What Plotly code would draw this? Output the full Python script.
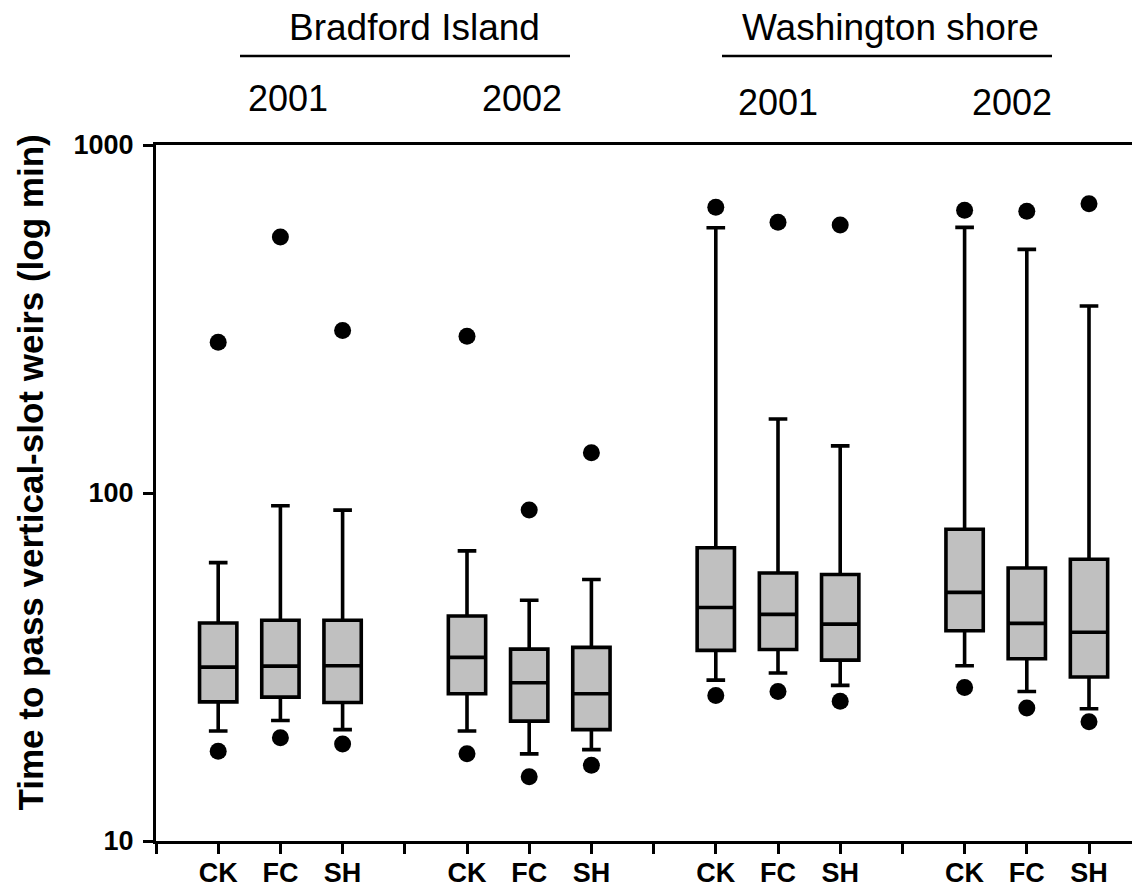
import plotly.graph_objects as go

# ---- data ----
categories = ["CK", "FC", "SH", "CK", "FC", "SH", "CK", "FC", "SH", "CK", "FC", "SH"]
positions = [1, 2, 3, 5, 6, 7, 9, 10, 11, 13, 14, 15]

q1 = [25.1, 25.9, 25.0, 26.5, 22.1, 20.9, 35.3, 35.5, 33.1, 40.2, 33.4, 29.6]
median = [31.6, 31.8, 31.9, 33.7, 28.5, 26.5, 46.9, 44.8, 42.0, 51.8, 42.2, 39.8]
q3 = [42.3, 43.1, 43.1, 44.3, 35.6, 36.0, 69.6, 58.9, 58.3, 78.7, 60.9, 64.5]
lower_whisker = [20.7, 22.2, 20.9, 20.7, 17.8, 18.3, 29.0, 30.4, 28.0, 31.9, 26.9, 24.0]
upper_whisker = [63.1, 91.9, 89.3, 68.2, 49.2, 56.4, 578.5, 163.1, 136.6, 580.0, 501.2, 344.5]
lower_point = [18.1, 19.8, 19.0, 17.8, 15.3, 16.5, 26.2, 26.9, 25.2, 27.6, 24.1, 22.0]
upper_point = [271, 544, 293, 282, 89.3, 130.5, 662, 600, 589, 649, 645, 678]

tick_positions = list(range(0, 16))
tick_text = ["" if p not in positions else categories[positions.index(p)] for p in tick_positions]

y_tickvals = [10, 100, 1000]
y_ticktext = ["10", "100", "1000"]

FONT = "Liberation Sans, Arial, sans-serif"

fig = go.Figure()

fig.add_trace(go.Box(
    x=positions,
    q1=q1, median=median, q3=q3,
    lowerfence=lower_whisker, upperfence=upper_whisker,
    width=0.6,
    whiskerwidth=0.5,
    fillcolor="#c0c0c0",
    line=dict(color="black", width=3.6),
    boxpoints=False,
    showlegend=False,
    hoverinfo="skip",
))

fig.add_trace(go.Scatter(
    x=positions, y=upper_point, mode="markers",
    marker=dict(color="black", size=17, line=dict(width=0)),
    showlegend=False, hoverinfo="skip", cliponaxis=False,
))
fig.add_trace(go.Scatter(
    x=positions, y=lower_point, mode="markers",
    marker=dict(color="black", size=17, line=dict(width=0)),
    showlegend=False, hoverinfo="skip", cliponaxis=False,
))

# ---- layout geometry (page offset by default body margin of 8px) ----
OFF = 8
W, H = 1140 - OFF, 892 - OFF
left, top, bottom_px = 156 - OFF, 145 - OFF, 841 - OFF
plot_h = bottom_px - top
x_max = (W - left) / 62.2

fig.update_layout(
    width=W, height=H,
    margin=dict(l=left, r=0, t=top, b=H - bottom_px, pad=0, autoexpand=False),
    plot_bgcolor="white", paper_bgcolor="white",
    font=dict(family=FONT, color="black"),
    showlegend=False,
)

fig.update_xaxes(
    range=[0, x_max], automargin=False,
    tickmode="array", tickvals=tick_positions, ticktext=tick_text,
    ticks="outside", ticklen=10, tickwidth=3, tickcolor="black",
    showline=True, linewidth=3, linecolor="black", mirror=True,
    showgrid=False, zeroline=False,
    tickfont=dict(family=FONT, size=27, color="black", weight="bold"),
    ticklabelstandoff=-4,
)
fig.update_yaxes(
    type="log", range=[1, 3], automargin=False,
    tickmode="array", tickvals=y_tickvals, ticktext=y_ticktext,
    ticks="outside", ticklen=10, tickwidth=3, tickcolor="black",
    showline=True, linewidth=3, linecolor="black",
    showgrid=False, zeroline=False,
    tickfont=dict(family=FONT, size=27, color="black", weight="bold"),
    ticklabelstandoff=4,
)

def py(page_y):
    return (bottom_px - (page_y - OFF)) / plot_h

def dx(page_x):
    return ((page_x - OFF) - left) / 62.2

annotations = [
    dict(text="Bradford Island", x=dx(414.5), y=py(27), size=37),
    dict(text="Washington shore", x=dx(890), y=py(28), size=37),
    dict(text="2001", x=dx(287.5), y=py(98.3), size=36),
    dict(text="2002", x=dx(521.5), y=py(98.3), size=36),
    dict(text="2001", x=dx(777.5), y=py(102.7), size=36),
    dict(text="2002", x=dx(1011.5), y=py(102.7), size=36),
]
for a in annotations:
    fig.add_annotation(
        text=a["text"], x=a["x"], y=a["y"], xref="x", yref="paper",
        xanchor="center", yanchor="middle", showarrow=False,
        font=dict(family=FONT, size=a["size"], color="black"),
    )

# y-axis title
fig.add_annotation(
    text="<b>Time to pass vertical-slot weirs (log min)</b>",
    x=((30 - OFF) - left) / (W - left), y=py(472.5), xref="paper", yref="paper",
    xanchor="center", yanchor="middle", textangle=-90, showarrow=False,
    font=dict(family=FONT, size=35, color="black"),
)

# group underlines
for x0, x1 in [(240, 570), (722, 1052)]:
    fig.add_shape(type="line", xref="x", yref="paper",
                  x0=dx(x0), x1=dx(x1), y0=py(56), y1=py(56),
                  line=dict(color="black", width=2.5))

fig.write_html("out.html")
